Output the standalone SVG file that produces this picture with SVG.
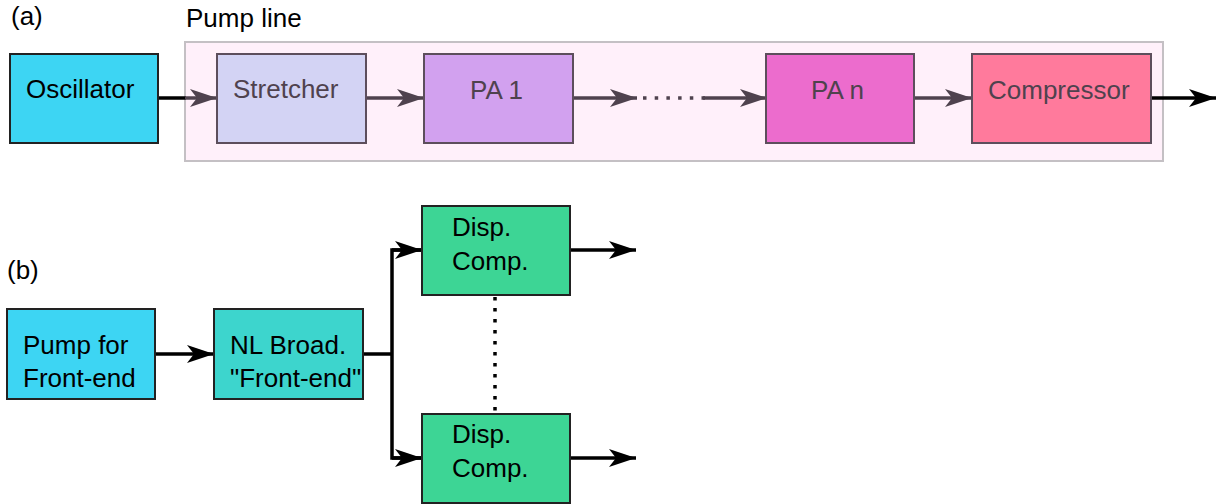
<svg xmlns="http://www.w3.org/2000/svg" width="1223" height="504" viewBox="0 0 1223 504">
<defs>
<style>
text{font-family:"Liberation Sans",Arial,sans-serif;font-size:26px;fill:#000}
.pl text{fill:#4f424e}
.box{stroke:#222;stroke-width:2}
.pbox{stroke:#5d4e5c;stroke-width:2}
.wire{fill:none;stroke:#000;stroke-width:3.5}
.pwire{fill:none;stroke:#4f424e;stroke-width:3.5}
</style>
<marker id="ah" markerUnits="userSpaceOnUse" markerWidth="28" markerHeight="18" refX="27" refY="9" orient="auto" viewBox="0 0 28 18">
<path d="M0,0 L27,9 L0,18 L7,9 Z" fill="#000"/>
</marker>
<marker id="ahp" markerUnits="userSpaceOnUse" markerWidth="28" markerHeight="18" refX="27" refY="9" orient="auto" viewBox="0 0 28 18">
<path d="M0,0 L27,9 L0,18 L7,9 Z" fill="#4f424e"/>
</marker>
</defs>
<rect width="1223" height="504" fill="#fff"/>
<text x="11" y="25">(a)</text>
<text x="7" y="279">(b)</text>

<g id="pumpline">
<rect x="185" y="42" width="978" height="119" fill="#fff0fa" stroke="#c4c0c4" stroke-width="2"/>
<text x="186" y="27">Pump line</text>
</g>

<g id="connectors">
<line class="wire" x1="158" y1="98" x2="186" y2="98"/>
<line class="pwire" x1="185" y1="98" x2="217" y2="98" marker-end="url(#ahp)"/>
<line class="pwire" x1="366" y1="98" x2="424" y2="98" marker-end="url(#ahp)"/>
<line class="pwire" x1="573" y1="98" x2="637" y2="98" marker-end="url(#ahp)"/>
<line x1="643" y1="98" x2="706" y2="98" stroke="#4f424e" stroke-width="3.5" stroke-dasharray="3.5 8.2"/>
<line class="pwire" x1="703" y1="98" x2="767" y2="98" marker-end="url(#ahp)"/>
<line class="pwire" x1="914" y1="98" x2="972" y2="98" marker-end="url(#ahp)"/>
<line class="wire" x1="1151" y1="98" x2="1216" y2="98" marker-end="url(#ah)"/>

<line class="wire" x1="155" y1="354" x2="214" y2="354" marker-end="url(#ah)"/>
<polyline class="wire" points="363,354 392,354"/>
<polyline class="wire" points="422,250 392,250 392,458 422,458"/>
<line class="wire" x1="392" y1="250" x2="422" y2="250" marker-end="url(#ah)"/>
<line class="wire" x1="392" y1="458" x2="422" y2="458" marker-end="url(#ah)"/>
<line class="wire" x1="570" y1="250" x2="636" y2="250" marker-end="url(#ah)"/>
<line class="wire" x1="570" y1="458" x2="636" y2="458" marker-end="url(#ah)"/>
<line x1="495" y1="297" x2="495" y2="414" stroke="#000" stroke-width="3.5" stroke-dasharray="3.5 7.5"/>
</g>

<g id="oscillator">
<rect class="box" x="10" y="54" width="148" height="89" fill="#3dd5f3"/>
<text x="26" y="98">Oscillator</text>
</g>
<g id="stretcher" class="pl">
<rect class="pbox" x="217" y="54" width="149" height="89" fill="#d3d3f4"/>
<text x="233" y="98">Stretcher</text>
</g>
<g id="pa1" class="pl">
<rect class="pbox" x="424" y="54" width="149" height="89" fill="#d2a1ef"/>
<text x="470" y="99">PA 1</text>
</g>
<g id="pan" class="pl">
<rect class="pbox" x="766" y="54" width="148" height="89" fill="#ec6ccd"/>
<text x="811" y="99">PA n</text>
</g>
<g id="compressor" class="pl">
<rect class="pbox" x="972" y="54" width="179" height="89" fill="#ff7a9c"/>
<text x="988" y="99">Compressor</text>
</g>

<g id="pumpfe">
<rect class="box" x="7" y="309" width="148" height="90" fill="#3dd5f3"/>
<text x="23" y="354">Pump for</text>
<text x="23" y="387">Front-end</text>
</g>
<g id="nlbroad">
<rect class="box" x="214" y="309" width="149" height="90" fill="#3dd5cd"/>
<text x="230" y="354">NL Broad.</text>
<text x="230" y="387">"Front-end"</text>
</g>
<g id="disp1">
<rect class="box" x="422" y="206" width="148" height="89" fill="#3dd595"/>
<text x="452" y="236">Disp.</text>
<text x="452" y="270">Comp.</text>
</g>
<g id="disp2">
<rect class="box" x="422" y="414" width="148" height="89" fill="#3dd595"/>
<text x="452" y="443">Disp.</text>
<text x="452" y="477">Comp.</text>
</g>
</svg>
